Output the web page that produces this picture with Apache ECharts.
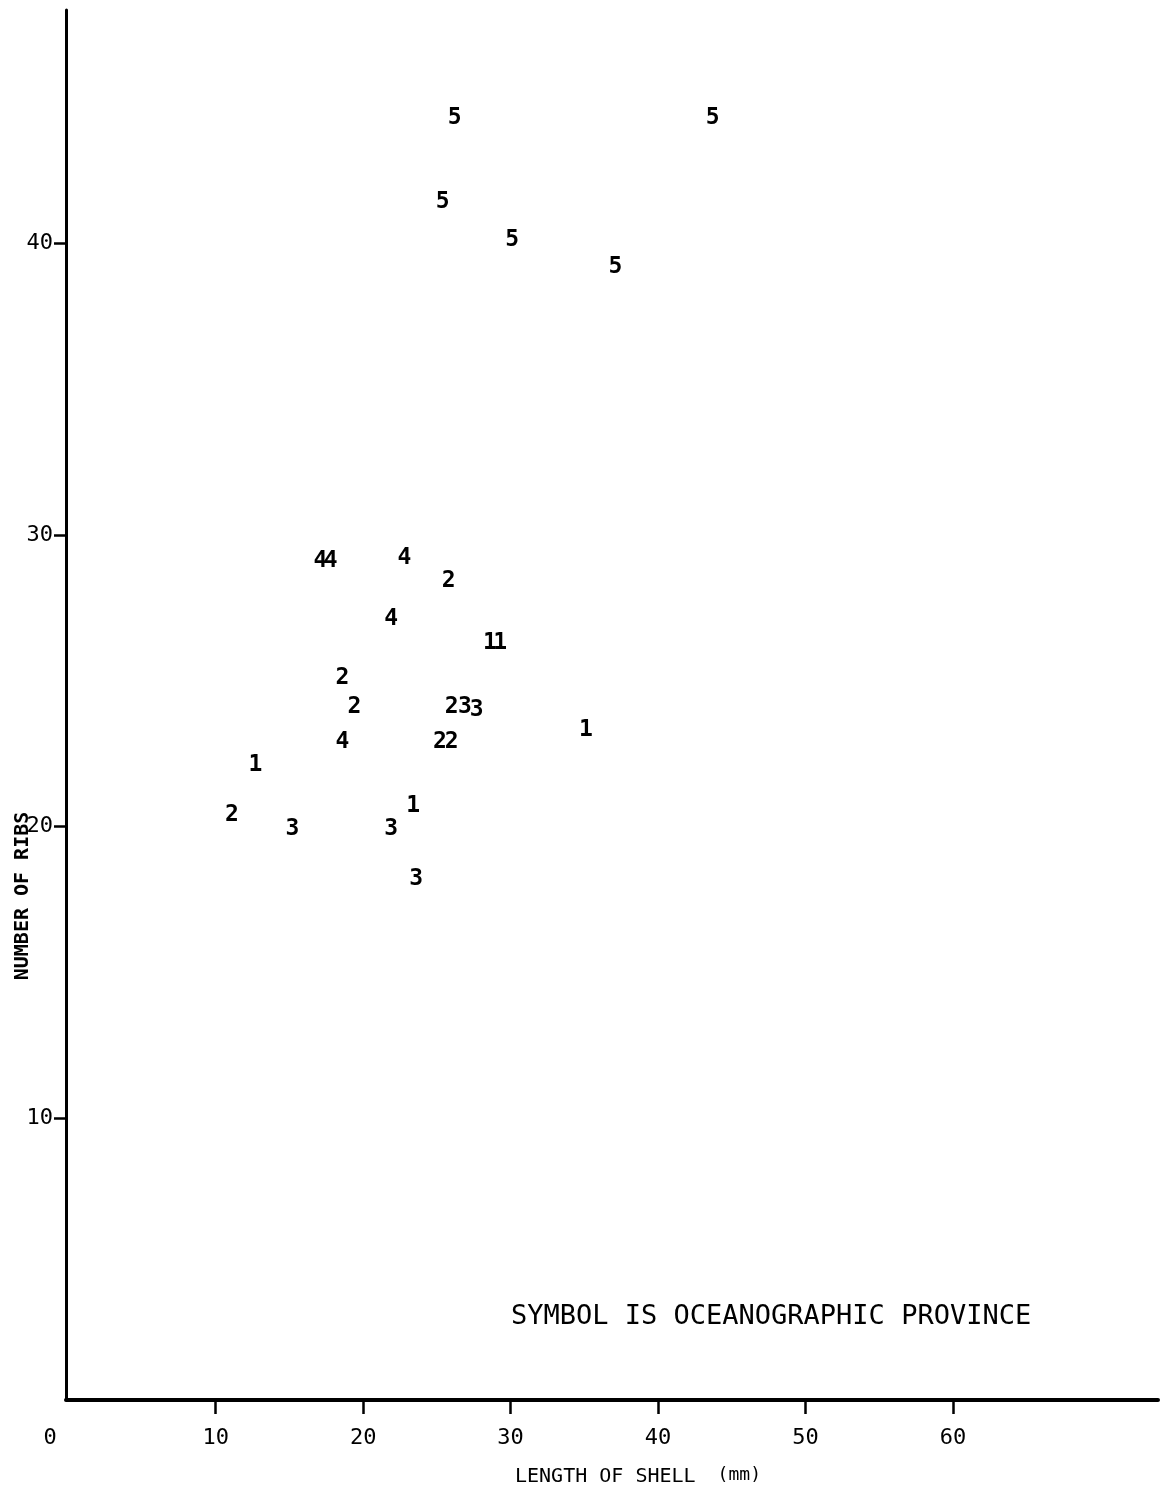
<!DOCTYPE html>
<html>
<head>
<meta charset="utf-8">
<script src="https://cdn.jsdelivr.net/npm/echarts@6/dist/echarts.min.js"></script>
<style>
html,body{margin:0;padding:0;background:#fff;}
#chart{width:1162px;height:1491px;}
</style>
</head>
<body>
<div id="chart"></div>
<script>
// Symbol = oceanographic province
const provinces = ['5','5','5','5','5','4','4','4','2','4','1','1','2','2','2','3','3','1','4','2','2','1','2','3','3','1','3'];
// Length of shell (mm)
const lengths = [26.2,43.7,25.4,30.1,37.1,17.1,17.8,22.8,25.8,21.9,28.6,29.3,18.6,19.4,26.0,26.9,27.7,35.1,18.6,25.2,26.0,12.7,11.1,15.2,21.9,23.4,23.6];
// Number of ribs
const ribs = [44.3,44.3,41.4,40.1,39.2,29.1,29.1,29.2,28.4,27.1,26.3,26.3,25.1,24.1,24.1,24.1,24.0,23.3,22.9,22.9,22.9,22.1,20.4,19.9,19.9,20.7,18.2];

const xTickValues = [10,20,30,40,50,60];
const xLabelValues = [0,10,20,30,40,50,60];
const yTickValues = [10,20,30,40];

const xTitle = 'LENGTH OF SHELL';
const xUnit = '(mm)';
const yTitle = 'NUMBER OF RIBS';
const note = 'SYMBOL IS OCEANOGRAPHIC PROVINCE';

const points = lengths.map((x, i) => [x, ribs[i], provinces[i]]);

const MONO = '"DejaVu Sans Mono", monospace';
const INK = '#000';

const chart = echarts.init(document.getElementById('chart'), null, {renderer: 'canvas'});
chart.setOption({
  backgroundColor: '#fff',
  animation: false,
  grid: {left: 66, top: 10, right: 4, bottom: 91, containLabel: false},
  xAxis: {
    type: 'value', min: -0.15, max: 73.9,
    splitLine: {show: false},
    axisLine: {show: true, onZero: false, lineStyle: {color: INK, width: 4}},
    axisTick: {show: true, customValues: xTickValues, length: 14, lineStyle: {color: INK, width: 2.5}},
    axisLabel: {
      show: true, customValues: xLabelValues, margin: 27,
      fontFamily: MONO, fontSize: 22, color: INK,
      formatter: v => v === 0 ? '{z|0}' : String(v),
      rich: {z: {fontFamily: MONO, fontSize: 22, color: INK, padding: [0, 36, 0, 0]}}
    }
  },
  yAxis: {
    type: 'value', min: 0.33, max: 48.0,
    splitLine: {show: false},
    axisLine: {show: true, onZero: false, lineStyle: {color: INK, width: 3}},
    axisTick: {show: true, customValues: yTickValues, length: 12, lineStyle: {color: INK, width: 2.5}},
    axisLabel: {
      show: true, customValues: yTickValues, margin: 13,
      fontFamily: MONO, fontSize: 22, color: INK
    }
  },
  series: [{
    type: 'scatter',
    data: points,
    symbol: 'circle',
    symbolSize: 1,
    itemStyle: {color: '#fff', opacity: 1},
    label: {
      show: true, position: 'inside',
      formatter: p => p.data[2],
      fontFamily: MONO, fontSize: 23, fontWeight: 'bold', color: INK,
      textBorderWidth: 0
    },
    emphasis: {disabled: true}
  }],
  graphic: [
    {type: 'text', left: 515, top: 1466, style: {
      text: '{a|' + xTitle + '}{b|' + xUnit + '}',
      rich: {
        a: {fontFamily: MONO, fontSize: 20, fill: INK, lineHeight: 22},
        b: {fontFamily: MONO, fontSize: 18, fill: INK, verticalAlign: 'top', lineHeight: 22, padding: [0, 0, 0, 22]}
      }
    }},
    {type: 'text', x: 23, y: 896, rotation: Math.PI / 2, style: {
      text: yTitle, fontFamily: MONO, fontSize: 20, fontWeight: 'bold', fill: INK,
      align: 'center', verticalAlign: 'middle'
    }},
    {type: 'text', left: 511, top: 1303, style: {
      text: note, fontFamily: MONO, fontSize: 27, fill: INK
    }}
  ]
});
</script>
</body>
</html>
